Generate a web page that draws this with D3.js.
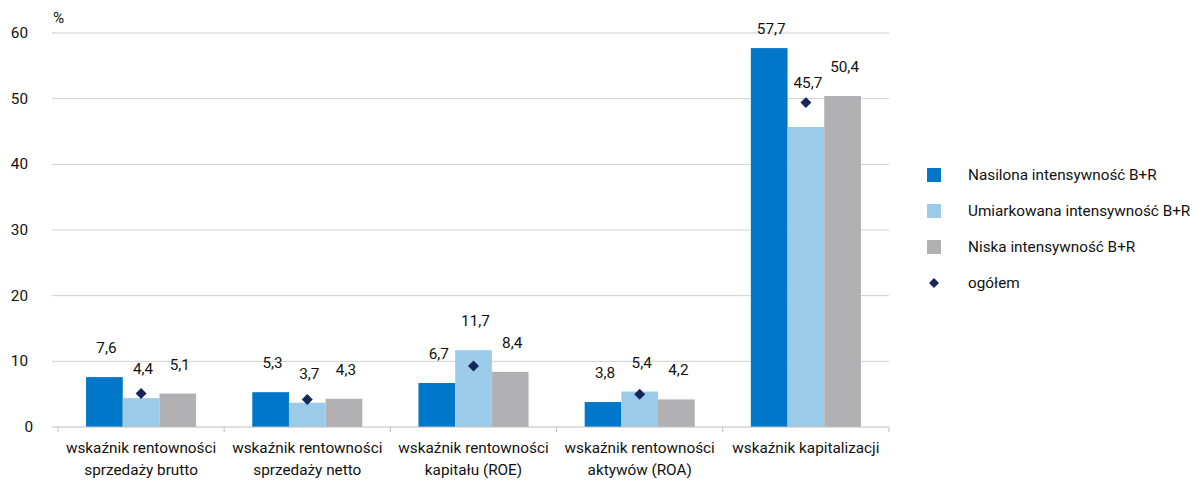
<!DOCTYPE html>
<html lang="pl">
<head>
<meta charset="utf-8">
<script src="https://cdn.jsdelivr.net/npm/d3@7"></script>
<style>
  html, body { margin: 0; padding: 0; background: #fff; }
  svg { display: block; }
  text { font-family: Roboto, "Noto Sans", sans-serif; fill: #111; }
</style>
</head>
<body>
<svg id="chart" width="1199" height="481"></svg>
<script>
// Wskaźniki finansowe według intensywności działalności B+R (w %)
const categories = [
  ["wskaźnik rentowności", "sprzedaży brutto"],
  ["wskaźnik rentowności", "sprzedaży netto"],
  ["wskaźnik rentowności", "kapitału (ROE)"],
  ["wskaźnik rentowności", "aktywów (ROA)"],
  ["wskaźnik kapitalizacji"]
];
const seriesNames = [
  "Nasilona intensywność B+R",
  "Umiarkowana intensywność B+R",
  "Niska intensywność B+R"
];
const nasilona     = [7.6, 5.3, 6.7, 3.8, 57.7];
const umiarkowana  = [4.4, 3.7, 11.7, 5.4, 45.7];
const niska        = [5.1, 4.3, 8.4, 4.2, 50.4];
const ogolem       = [5.1, 4.2, 9.3, 5.0, 49.4];
const totalName = "ogółem";
const yTicks = [0, 10, 20, 30, 40, 50, 60];
const colors = ["#0077c8", "#9ccbea", "#b1b1b3"];
const totalColor = "#15265c";
const fs = 15.3;

const series = [nasilona, umiarkowana, niska];
const svg = d3.select("#chart");

const y = d3.scaleLinear().domain([0, 60]).range([427, 33]);
const catKeys = categories.map((c, i) => i);
const x = d3.scaleBand().domain(catKeys).range([58, 889]).paddingInner(0).paddingOuter(0);
const xs = d3.scaleBand().domain([0, 1, 2]).range([0, x.bandwidth()]).paddingInner(0).paddingOuter(0.765);

// horizontal gridlines
svg.append("g").selectAll("line")
  .data(yTicks.filter(t => t > 0))
  .join("line")
  .attr("x1", 52).attr("x2", 889)
  .attr("y1", d => y(d)).attr("y2", d => y(d))
  .attr("stroke", "#cfcfcf").attr("stroke-width", 1);

// y axis labels
svg.append("g").selectAll("text")
  .data(yTicks)
  .join("text")
  .attr("x", d => d === 0 ? 33 : 28)
  .attr("y", d => y(d) + 5)
  .attr("text-anchor", "end")
  .attr("font-size", fs)
  .text(d => d);

svg.append("text").attr("x", 53).attr("y", 23).attr("font-size", fs).text("%");

// bars
const groups = svg.append("g").selectAll("g")
  .data(catKeys)
  .join("g")
  .attr("transform", d => `translate(${x(d)},0)`);

groups.selectAll("rect")
  .data(ci => series.map((s, si) => ({ si, v: s[ci] })))
  .join("rect")
  .attr("x", d => xs(d.si))
  .attr("width", xs.bandwidth())
  .attr("y", d => y(d.v))
  .attr("height", d => y(0) - y(d.v))
  .attr("fill", d => colors[d.si]);

// zero axis with category separators
const axis = svg.append("g").attr("transform", `translate(0,${y(0)})`);
axis.append("line").attr("x1", 52).attr("x2", 889).attr("stroke", "#bdbdbd");
axis.selectAll("line.tick")
  .data(d3.range(categories.length + 1))
  .join("line").attr("class", "tick")
  .attr("x1", i => i < categories.length ? x(i) : 889)
  .attr("x2", i => i < categories.length ? x(i) : 889)
  .attr("y1", 0).attr("y2", 5)
  .attr("stroke", "#bdbdbd");

// overall markers
groups.append("path")
  .attr("d", d3.symbol().type(d3.symbolSquare).size(60))
  .attr("transform", ci => `translate(${xs(1) + xs.bandwidth() / 2},${y(ogolem[ci])}) rotate(45)`)
  .attr("fill", totalColor);

// value labels
groups.selectAll("text.val")
  .data(ci => series.map((s, si) => ({ si, v: s[ci], t: ogolem[ci] })))
  .join("text").attr("class", "val")
  .attr("x", d => xs(d.si) + xs.bandwidth() / 2 + 2)
  .attr("y", d => {
    let cy = y(d.v) - 29;
    if (d.si === 1) cy = Math.min(cy, y(d.t) - 20);
    cy = Math.max(cy, 29);
    return cy + 5;
  })
  .attr("text-anchor", "middle")
  .attr("font-size", fs)
  .text(d => d3.format(".1f")(d.v).replace(".", ","));

// category labels
groups.append("text")
  .attr("text-anchor", "middle")
  .attr("font-size", fs)
  .selectAll("tspan")
  .data(ci => categories[ci].map(line => ({ line, ci })))
  .join("tspan")
  .attr("x", x.bandwidth() / 2)
  .attr("y", (d, i) => 453 + i * 22)
  .text(d => d.line);

// legend
const legend = svg.append("g");
const items = seriesNames.map((n, i) => ({ n, i })).concat([{ n: totalName, i: 3 }]);
const li = legend.selectAll("g").data(items).join("g")
  .attr("transform", (d, k) => `translate(927,${175 + k * 36})`);
li.filter(d => d.i < 3).append("rect")
  .attr("x", 0).attr("y", -7).attr("width", 14).attr("height", 14)
  .attr("fill", d => colors[d.i]);
li.filter(d => d.i === 3).append("path")
  .attr("d", d3.symbol().type(d3.symbolSquare).size(50))
  .attr("transform", "translate(7,0) rotate(45)")
  .attr("fill", totalColor);
li.append("text").attr("x", 41).attr("y", 5).attr("font-size", fs).text(d => d.n);
</script>
</body>
</html>
